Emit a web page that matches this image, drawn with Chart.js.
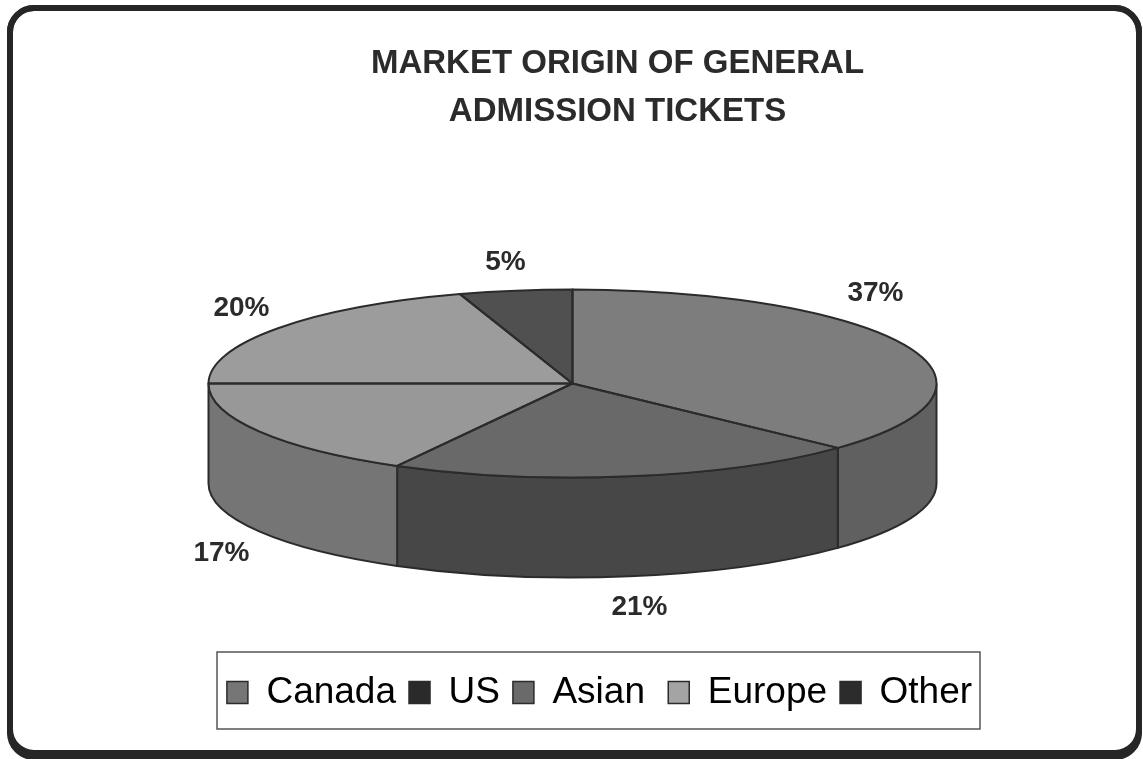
<!DOCTYPE html>
<html>
<head>
<meta charset="utf-8">
<title>Market origin of general admission tickets</title>
<script src="https://cdn.jsdelivr.net/npm/chart.js@4"></script>
<style>
  html, body { margin: 0; padding: 0; background: #fff; }
  #wrap { width: 1143px; height: 759px; }
</style>
</head>
<body>
<div id="wrap"><canvas id="pie" width="1143" height="759"></canvas></div>
<script>
// --- Data ---
const categories = ["Canada", "US", "Asian", "Europe", "Other"];
const shares = [37, 21, 17, 20, 5];
const titleLines = ["MARKET ORIGIN OF GENERAL", "ADMISSION TICKETS"];

// --- Greys ---
const topColors = ["#7d7d7d", "#696969", "#989898", "#9c9c9c", "#505050"];
const sideColors = ["#606060", "#474747", "#757575", "#757575", "#3c3c3c"];
const legendColors = ["#767676", "#2a2a2a", "#6a6a6a", "#a4a4a4", "#2c2c2c"];
const inkColor = "#2b2b2b";

// --- Look of the fake 3D pie ---
const pieRadius = 364;
const squash = 94 / 364;   // top face is a flattened circle
const wallDepth = 100;
const titleShift = { x: 45, y: 28 };  // title and legend are not centred on the pie
const legendShift = { x: 27, y: 2 };
const legendFrame = { left: 217, top: 652, right: 980, bottom: 729 };
// label centre, relative to the pie centre
const labelOffsets = [[303, -90], [67, 224], [-351, 170], [-331, -75], [-67, -121]];

const fakeDepth = {
  id: "fakeDepth",
  afterLayout(chart) {
    chart.titleBlock.left += titleShift.x;
    chart.titleBlock.right += titleShift.x;
    chart.titleBlock.top += titleShift.y;
    chart.titleBlock.bottom += titleShift.y;
    chart.legend.left += legendShift.x;
    chart.legend.right += legendShift.x;
    chart.legend.top += legendShift.y;
    chart.legend.bottom += legendShift.y;
  },
  beforeDraw(chart) {
    const { ctx, width } = chart;
    ctx.save();
    ctx.strokeStyle = "#262626";
    ctx.lineWidth = 6;
    // bottom edge of the frame is about twice as heavy, stroke it twice
    [745, 749].forEach(h => {
      ctx.beginPath();
      ctx.roundRect(10, 8, width - 10 - 4, h, 24);
      ctx.stroke();
    });
    ctx.restore();
  },
  beforeDatasetsDraw(chart) {
    const { ctx } = chart;
    const arcs = chart.getDatasetMeta(0).data;
    const { x, y } = arcs[0];
    const ry = pieRadius * squash;

    // walls first, only the front half shows
    ctx.save();
    ctx.strokeStyle = inkColor;
    ctx.lineWidth = 2;
    arcs.forEach((arc, i) => {
      const from = Math.max(arc.startAngle, 0);
      const to = Math.min(arc.endAngle, Math.PI);
      if (to <= from) return;
      ctx.beginPath();
      ctx.ellipse(x, y, pieRadius, ry, 0, from, to);
      ctx.ellipse(x, y + wallDepth, pieRadius, ry, 0, to, from, true);
      ctx.closePath();
      ctx.fillStyle = sideColors[i];
      ctx.fill();
      ctx.stroke();
    });
    ctx.restore();

    // squash the library's arcs into the top face
    ctx.save();
    ctx.translate(x, y);
    ctx.scale(1, squash);
    ctx.translate(-x, -y);
  },
  afterDatasetsDraw(chart) {
    const { ctx } = chart;
    ctx.restore();

    const arcs = chart.getDatasetMeta(0).data;
    const { x, y } = arcs[0];
    const ry = pieRadius * squash;

    // outlines are stroked here so the squash doesn't thin them
    ctx.save();
    ctx.strokeStyle = inkColor;
    ctx.lineWidth = 2;
    ctx.lineJoin = "round";
    arcs.forEach(arc => {
      ctx.beginPath();
      ctx.moveTo(x, y);
      ctx.ellipse(x, y, pieRadius, ry, 0, arc.startAngle, arc.endAngle);
      ctx.closePath();
      ctx.stroke();
    });

    // percent labels
    ctx.fillStyle = inkColor;
    ctx.font = "bold 28px 'Liberation Sans'";
    ctx.textAlign = "center";
    ctx.textBaseline = "middle";
    shares.forEach((v, i) => {
      ctx.fillText(v + "%", x + labelOffsets[i][0], y + labelOffsets[i][1]);
    });
    ctx.restore();
  },
  afterDraw(chart) {
    const { ctx } = chart;
    const f = legendFrame;
    ctx.save();
    ctx.strokeStyle = "#555";
    ctx.lineWidth = 1.5;
    ctx.strokeRect(f.left, f.top, f.right - f.left, f.bottom - f.top);
    ctx.restore();
  }
};

// --- Chart.js setup ---
new Chart(document.getElementById("pie").getContext("2d"), {
  type: "pie",
  plugins: [fakeDepth],
  data: {
    labels: categories,
    datasets: [{
      data: shares,
      backgroundColor: topColors,
      borderWidth: 0,
      clip: false,
      radius: pieRadius
    }]
  },
  options: {
    responsive: false,
    animation: false,
    layout: { padding: { left: 2, top: 0, right: 0, bottom: 40 } },
    plugins: {
      tooltip: { enabled: false },
      title: {
        display: true,
        text: titleLines,
        color: inkColor,
        font: { family: "'Liberation Sans'", size: 33, weight: "bold", lineHeight: 1.455 },
        padding: { top: 12, bottom: 0 }
      },
      legend: {
        position: "bottom",
        labels: {
          color: inkColor,
          font: { family: "'Liberation Sans'", size: 37 },
          boxWidth: 21,
          boxHeight: 22,
          padding: 13,
          generateLabels(chart) {
            return categories.map((name, i) => ({
              // reference has a wider gap after Asian
              text: name === "Asian" ? name + " " : name,
              fillStyle: legendColors[i],
              strokeStyle: inkColor,
              lineWidth: 1.5,
              index: i
            }));
          }
        }
      }
    }
  }
});
</script>
</body>
</html>
